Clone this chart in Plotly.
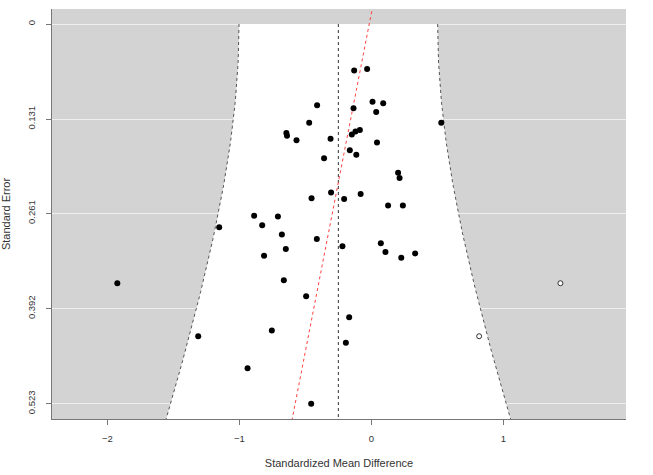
import numpy as np
import plotly.graph_objects as go

# observed studies (effect size, standard error)
smd = [-0.130, -0.032, -0.411, 0.009, 0.090, -0.135, 0.037, -0.471, 0.530, -0.644,
       -0.639, -0.567, -0.309, -0.148, -0.120, -0.087, 0.043, -0.163, -0.114, -0.358,
       0.203, 0.214, -0.305, -0.081, -0.453, -0.206, 0.127, 0.239, -0.888, -0.708,
       -0.827, -1.153, -0.678, -0.413, 0.072, -0.219, 0.107, 0.332, 0.227, -0.648,
       -0.813, -0.663, -0.494, -0.168, -0.193, -1.312, -0.754, -0.938, -0.456, -1.925]
se = [0.064, 0.062, 0.112, 0.107, 0.109, 0.116, 0.121, 0.136, 0.136, 0.150,
      0.154, 0.160, 0.158, 0.152, 0.148, 0.146, 0.163, 0.174, 0.180, 0.185,
      0.205, 0.212, 0.232, 0.234, 0.240, 0.241, 0.250, 0.250, 0.264, 0.265,
      0.277, 0.280, 0.290, 0.296, 0.302, 0.306, 0.314, 0.316, 0.322, 0.310,
      0.319, 0.353, 0.375, 0.404, 0.439, 0.430, 0.422, 0.474, 0.523, 0.357]

# studies imputed by trim-and-fill
fill_smd = [1.433, 0.817]
fill_se = [0.357, 0.430]

estimate = -0.25
tau = 0.384
reg_intercept = -0.016
reg_slope = -1.073

y_ticks = [0, 0.131, 0.261, 0.392, 0.523]
y_ticklabels = ['0', '0.131', '0.261', '0.392', '0.523']
x_ticks = [-2, -1, 0, 1]

se_max = 0.544
se_grid = np.linspace(0, se_max, 100)
half = 1.96 * np.sqrt(se_grid ** 2 + tau ** 2)
lower = estimate - half
upper = estimate + half

fig = go.Figure()
fig.add_trace(go.Scatter(
    x=np.concatenate([lower, upper[::-1]]), y=np.concatenate([se_grid, se_grid[::-1]]),
    fill='toself', fillcolor='white', mode='none', hoverinfo='skip'))
for edge in (lower, upper):
    fig.add_trace(go.Scatter(x=edge, y=se_grid, mode='lines',
                             line=dict(color='#555555', width=1, dash='dot'), hoverinfo='skip'))
fig.add_trace(go.Scatter(x=[estimate, estimate], y=[0, se_max], mode='lines',
                         line=dict(color='#333333', width=1, dash='dot'), hoverinfo='skip'))
reg_se = np.array([-0.05, 0.6])
fig.add_trace(go.Scatter(x=reg_intercept + reg_slope * reg_se, y=reg_se, mode='lines',
                         line=dict(color='#FF4040', width=1, dash='dot'), hoverinfo='skip'))
fig.add_trace(go.Scatter(x=smd, y=se, mode='markers',
                         marker=dict(color='black', size=6)))
fig.add_trace(go.Scatter(x=fill_smd, y=fill_se, mode='markers',
                         marker=dict(color='white', size=5, line=dict(color='#333333', width=1))))

fig.update_layout(
    width=653, height=475,
    margin=dict(l=52, r=27, t=9, b=56),
    paper_bgcolor='white', plot_bgcolor='#D3D3D3',
    showlegend=False,
    font=dict(family='Liberation Sans, Arial, sans-serif', size=9.5, color='#333333'),
)
fig.update_xaxes(
    range=[-2.42, 1.93], tickvals=x_ticks, showgrid=False, zeroline=False,
    showline=True, linecolor='#777777', linewidth=1, automargin=False,
    ticks='outside', ticklen=5, tickcolor='#777777', ticklabelstandoff=6,
    title=dict(text='Standardized Mean Difference', standoff=15),
)
fig.update_yaxes(
    range=[se_max, -0.0207], tickvals=y_ticks, ticktext=y_ticklabels, tickangle=-90,
    showgrid=True, gridcolor='#EFEFEF', gridwidth=1, zeroline=False,
    showline=True, linecolor='#777777', linewidth=1, automargin=False,
    ticks='outside', ticklen=5, tickcolor='#777777', ticklabelstandoff=7,
    title=dict(text='Standard Error', standoff=16),
)

# drop the default page margin so the figure fills the window exactly
fig.write_html("out.html", config={'displayModeBar': False},
               post_script="document.body.style.margin='0';")
